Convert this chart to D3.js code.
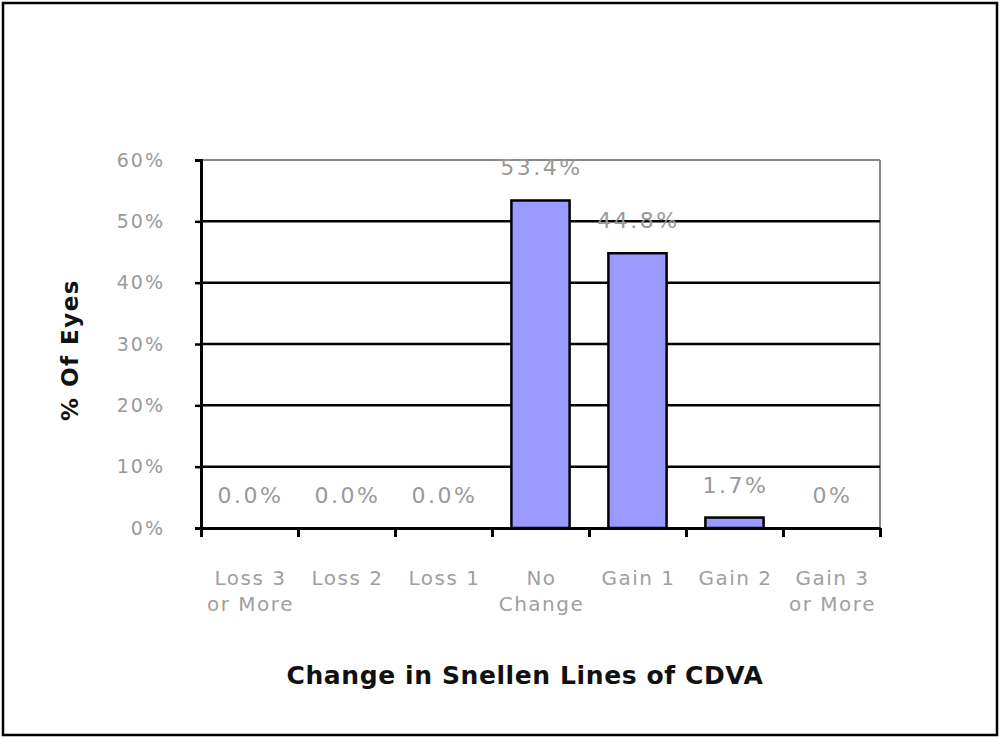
<!DOCTYPE html>
<html><head><meta charset="utf-8">
<script src="https://cdn.jsdelivr.net/npm/d3@7"></script>
<style>body{margin:0;background:#fff}svg{display:block}text{font-family:"DejaVu Sans",Verdana,sans-serif}</style>
</head><body>
<svg id="c" width="1000" height="739"></svg>
<script>
const categories = [["Loss 3","or More"],["Loss 2"],["Loss 1"],["No","Change"],["Gain 1"],["Gain 2"],["Gain 3","or More"]];
const values = [0, 0, 0, 53.4, 44.8, 1.7, 0];
const valueLabels = ["0.0%","0.0%","0.0%","53.4%","44.8%","1.7%","0%"];
const yTicks = [0,10,20,30,40,50,60];

const svg = d3.select("#c");
svg.append("rect").attr("x",3).attr("y",3).attr("width",994).attr("height",732)
  .attr("fill","#fff").attr("stroke","#000").attr("stroke-width",2.5);

const L=201, R=880, T=160, B=528;
const x = d3.scaleBand().domain(d3.range(categories.length)).range([L,R]).paddingInner(0.4).paddingOuter(0.2);
const xb = d3.scaleLinear().domain([0,categories.length]).range([L,R]);
const y = d3.scaleLinear().domain([0,60]).range([B,T]);

// plot frame (top & right gray)
svg.append("line").attr("x1",L).attr("x2",R).attr("y1",T).attr("y2",T).attr("stroke","#888").attr("stroke-width",2);
svg.append("line").attr("x1",R).attr("x2",R).attr("y1",T).attr("y2",B).attr("stroke","#888").attr("stroke-width",2);

// gridlines
svg.append("g").selectAll("line").data(yTicks.filter(d=>d>0&&d<60)).join("line")
  .attr("x1",L).attr("x2",R).attr("y1",d=>y(d)).attr("y2",d=>y(d))
  .attr("stroke","#000").attr("stroke-width",2.5);

// y axis
const yAxis = d3.axisLeft(y).tickValues(yTicks).tickFormat(d=>d+"%").tickSize(6).tickPadding(30);
const gy = svg.append("g").attr("transform",`translate(${L},0)`).call(yAxis);
gy.select(".domain").attr("stroke","#000").attr("stroke-width",3);
gy.selectAll(".tick line").attr("stroke","#000").attr("stroke-width",2.5);
gy.selectAll(".tick text").attr("fill","#999").style("font-size","19px").style("letter-spacing","2px");

// bars
svg.append("g").selectAll("rect").data(values).join("rect")
  .attr("x",(d,i)=>x(i)).attr("width",x.bandwidth())
  .attr("y",d=>y(d)).attr("height",d=>B-y(d))
  .attr("fill","#9999FF").attr("stroke","#000").attr("stroke-width",2.5)
  .attr("display",d=>d>0?null:"none");

// x axis
const xAxis = d3.axisBottom(xb).tickValues(d3.range(categories.length+1)).tickFormat("").tickSize(9).tickSizeOuter(0);
const gx = svg.append("g").attr("transform",`translate(0,${B})`).call(xAxis);
gx.select(".domain").attr("stroke","#000").attr("stroke-width",3);
gx.selectAll(".tick line").attr("stroke","#000").attr("stroke-width",3);

// category labels
const cl = svg.append("g").selectAll("text").data(categories).join("text")
  .attr("x",(d,i)=>x(i)+x.bandwidth()/2+1).attr("y",585)
  .attr("text-anchor","middle").attr("fill","#a0a0a0").style("font-size","20px").style("letter-spacing","1.5px");
cl.selectAll("tspan").data(d=>d).join("tspan")
  .attr("x",function(){return this.parentNode.getAttribute("x");})
  .attr("dy",(d,i)=>i?26:0).text(d=>d);

// value labels
svg.append("g").selectAll("text").data(values).join("text")
  .attr("x",(d,i)=>x(i)+x.bandwidth()/2+1).attr("y",d=>y(d)-25)
  .attr("text-anchor","middle").attr("fill","#999").style("font-size","22px").style("letter-spacing","2.5px")
  .text((d,i)=>valueLabels[i]);

// titles
svg.append("text").attr("x",525).attr("y",684).attr("text-anchor","middle")
  .style("font-size","25px").style("font-weight","bold").style("letter-spacing","0.6px").attr("fill","#111")
  .text("Change in Snellen Lines of CDVA");
svg.append("text").attr("transform","translate(78,350) rotate(-90)").attr("text-anchor","middle")
  .style("font-size","23px").style("font-weight","bold").style("letter-spacing","1.5px").attr("fill","#111")
  .text("% Of Eyes");
</script>
</body></html>
